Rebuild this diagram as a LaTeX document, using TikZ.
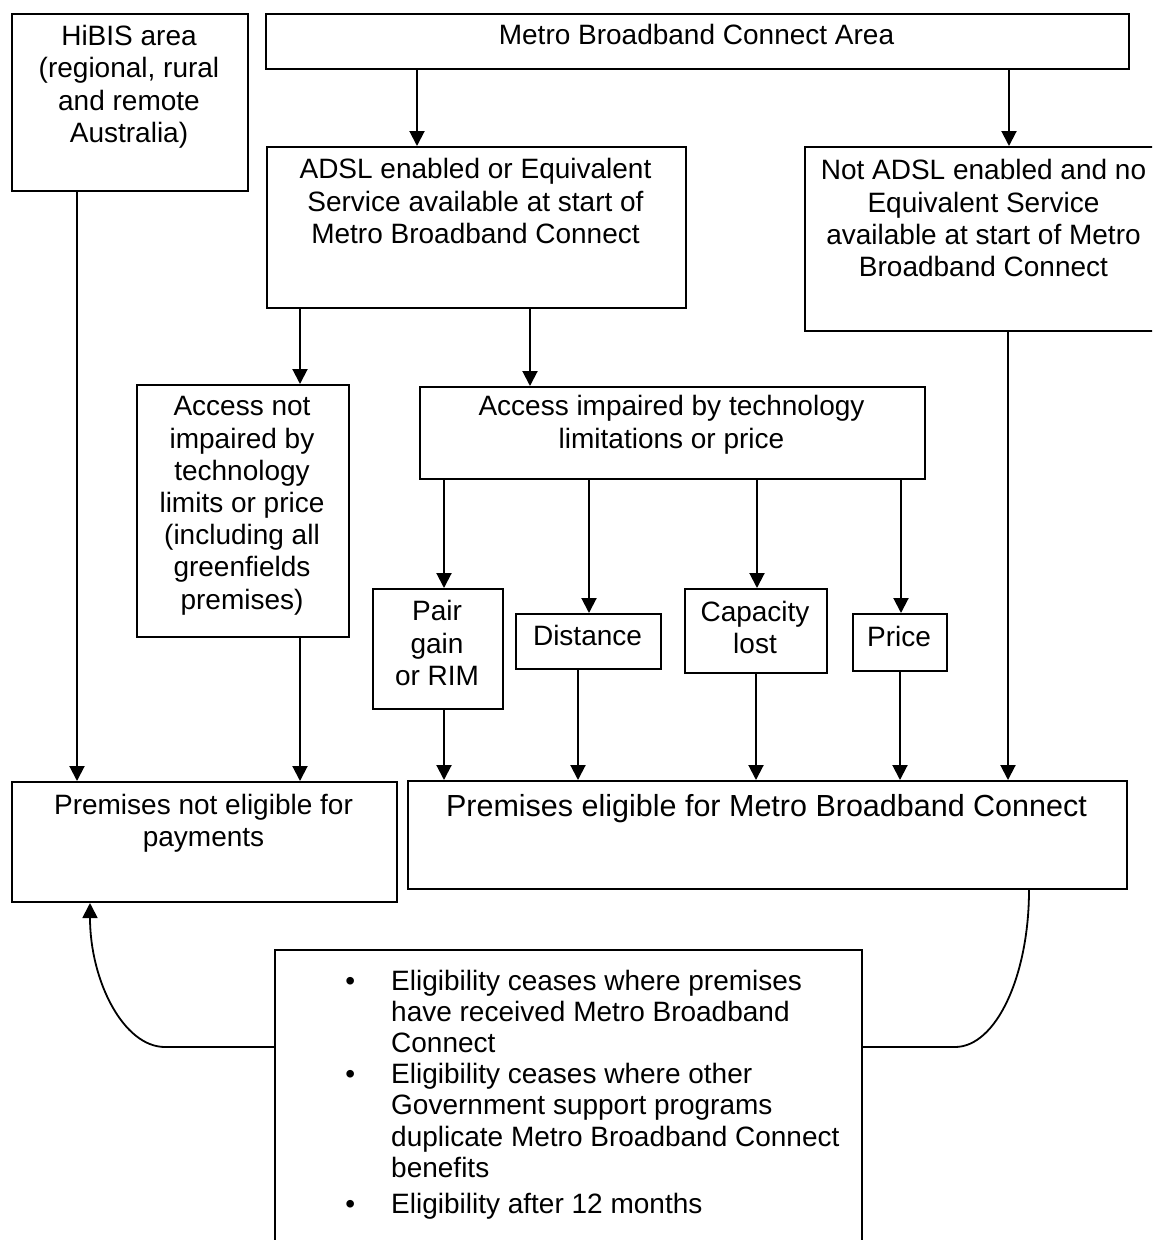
\documentclass[tikz,border=0pt]{standalone}
\usepackage{fontspec}
\setmainfont{Liberation Sans}
\usetikzlibrary{arrows.meta}
\begin{document}
\begin{tikzpicture}[x=1pt,y=-1pt,
  box/.style={draw, line width=2pt, inner sep=0pt, anchor=north west},
  txt/.style={inner sep=0pt, anchor=north, align=center, font={\fontsize{28}{32.2}\selectfont}},
  bigtxt/.style={inner sep=0pt, anchor=north, align=center, font={\fontsize{30.5}{35}\selectfont}},
  arr/.style={line width=2pt, -{Triangle[width=15pt,length=15pt]}},
  curve/.style={line width=1.8pt}]
\useasboundingbox (0,0) rectangle (1152,1240);
\clip (0,0) rectangle (1152,1240);

% boxes
\node[box, minimum width=236pt, minimum height=177pt] (hibis) at (11,13) {};
\node[box, minimum width=863pt, minimum height=55pt] (area) at (265,13) {};
\node[box, minimum width=419pt, minimum height=161pt] (adsl) at (266,146) {};
\node[box, minimum width=359pt, minimum height=184pt] (notadsl) at (804,146) {};
\node[box, minimum width=212pt, minimum height=252pt] (nimp) at (136,384) {};
\node[box, minimum width=505pt, minimum height=92pt] (imp) at (419,386) {};
\node[box, minimum width=130pt, minimum height=120pt] (pair) at (372,588) {};
\node[box, minimum width=145pt, minimum height=55pt] (dist) at (515,613) {};
\node[box, minimum width=142pt, minimum height=84pt] (cap) at (684,588) {};
\node[box, minimum width=94pt, minimum height=57pt] (price) at (852,613) {};
\node[box, minimum width=385pt, minimum height=120pt] (notelig) at (11,781) {};
\node[box, minimum width=719pt, minimum height=108pt] (elig) at (407,780) {};
\node[box, minimum width=587pt, minimum height=330pt] (cease) at (274,949) {};

% texts
\node[txt] (t-hibis) at (129,25.2) {HiBIS area\\(regional, rural\\and remote\\Australia)};
\node[txt] (t-area) at (696.5,24) {Metro Broadband Connect Area};
\node[txt] (t-adsl) at (475.5,158.5) {ADSL enabled or Equivalent\\Service available at start of\\Metro Broadband Connect};
\node[txt] (t-notadsl) at (983.5,159.5) {Not ADSL enabled and no\\Equivalent Service\\available at start of Metro\\Broadband Connect};
\node[txt] (t-nimp) at (242,396.5) {Access not\\impaired by\\technology\\limits or price\\(including all\\greenfields\\premises)};
\node[txt] (t-imp) at (671.5,395.5) {Access impaired by technology\\limitations or price};
\node[txt] (t-pair) at (437,600.5) {Pair\\gain\\or RIM};
\node[txt] (t-dist) at (587.5,625.5) {Distance};
\node[txt] (t-cap) at (755,601) {Capacity\\lost};
\node[txt] (t-price) at (899,626.5) {Price};
\node[txt] (t-notelig) at (203.5,793.5) {Premises not eligible for\\payments};
\node[bigtxt] (t-elig) at (766.5,793.8) {Premises eligible for Metro Broadband Connect};
\node[inner sep=0pt, anchor=north west, align=left, font={\fontsize{28}{31.2}\selectfont}] (t-cease) at (391,969.5)
  {\llap{•\hspace{36pt}}Eligibility ceases where premises\\
   have received Metro Broadband\\
   Connect\\
   \llap{•\hspace{36pt}}Eligibility ceases where other\\
   Government support programs\\
   duplicate Metro Broadband Connect\\
   benefits\\[5pt]
   \llap{•\hspace{36pt}}Eligibility after 12 months};

% arrows
\draw[arr] (area.south -| 417,0) -- (adsl.north -| 417,0);
\draw[arr] (area.south -| 1009,0) -- (notadsl.north -| 1009,0);
\draw[arr] (hibis.south -| 77,0) -- (notelig.north -| 77,0);
\draw[arr] (adsl.south -| 300,0) -- (nimp.north -| 300,0);
\draw[arr] (adsl.south -| 530,0) -- (imp.north -| 530,0);
\draw[arr] (nimp.south -| 300,0) -- (notelig.north -| 300,0);
\draw[arr] (imp.south -| 444,0) -- (pair.north -| 444,0);
\draw[arr] (imp.south -| 589,0) -- (dist.north -| 589,0);
\draw[arr] (imp.south -| 757,0) -- (cap.north -| 757,0);
\draw[arr] (imp.south -| 901,0) -- (price.north -| 901,0);
\draw[arr] (pair.south -| 444,0) -- (elig.north -| 444,0);
\draw[arr] (dist.south -| 578,0) -- (elig.north -| 578,0);
\draw[arr] (cap.south -| 756,0) -- (elig.north -| 756,0);
\draw[arr] (price.south -| 900,0) -- (elig.north -| 900,0);
\draw[arr] (notadsl.south -| 1008,0) -- (elig.north -| 1008,0);

% curved connectors
\coordinate (lbend) at (165,1047);
\coordinate (rbend) at (955,1047);
\draw[curve, -{Triangle[width=15pt,length=15pt]}] (cease.west |- lbend) -- (lbend)
  .. controls (123.6,1047) and (90,981) .. (notelig.south -| 90,0);
\draw[curve] (cease.east |- rbend) -- (rbend)
  .. controls (996,1047) and (1029,976) .. (elig.south -| 1029,0);
\end{tikzpicture}
\end{document}
